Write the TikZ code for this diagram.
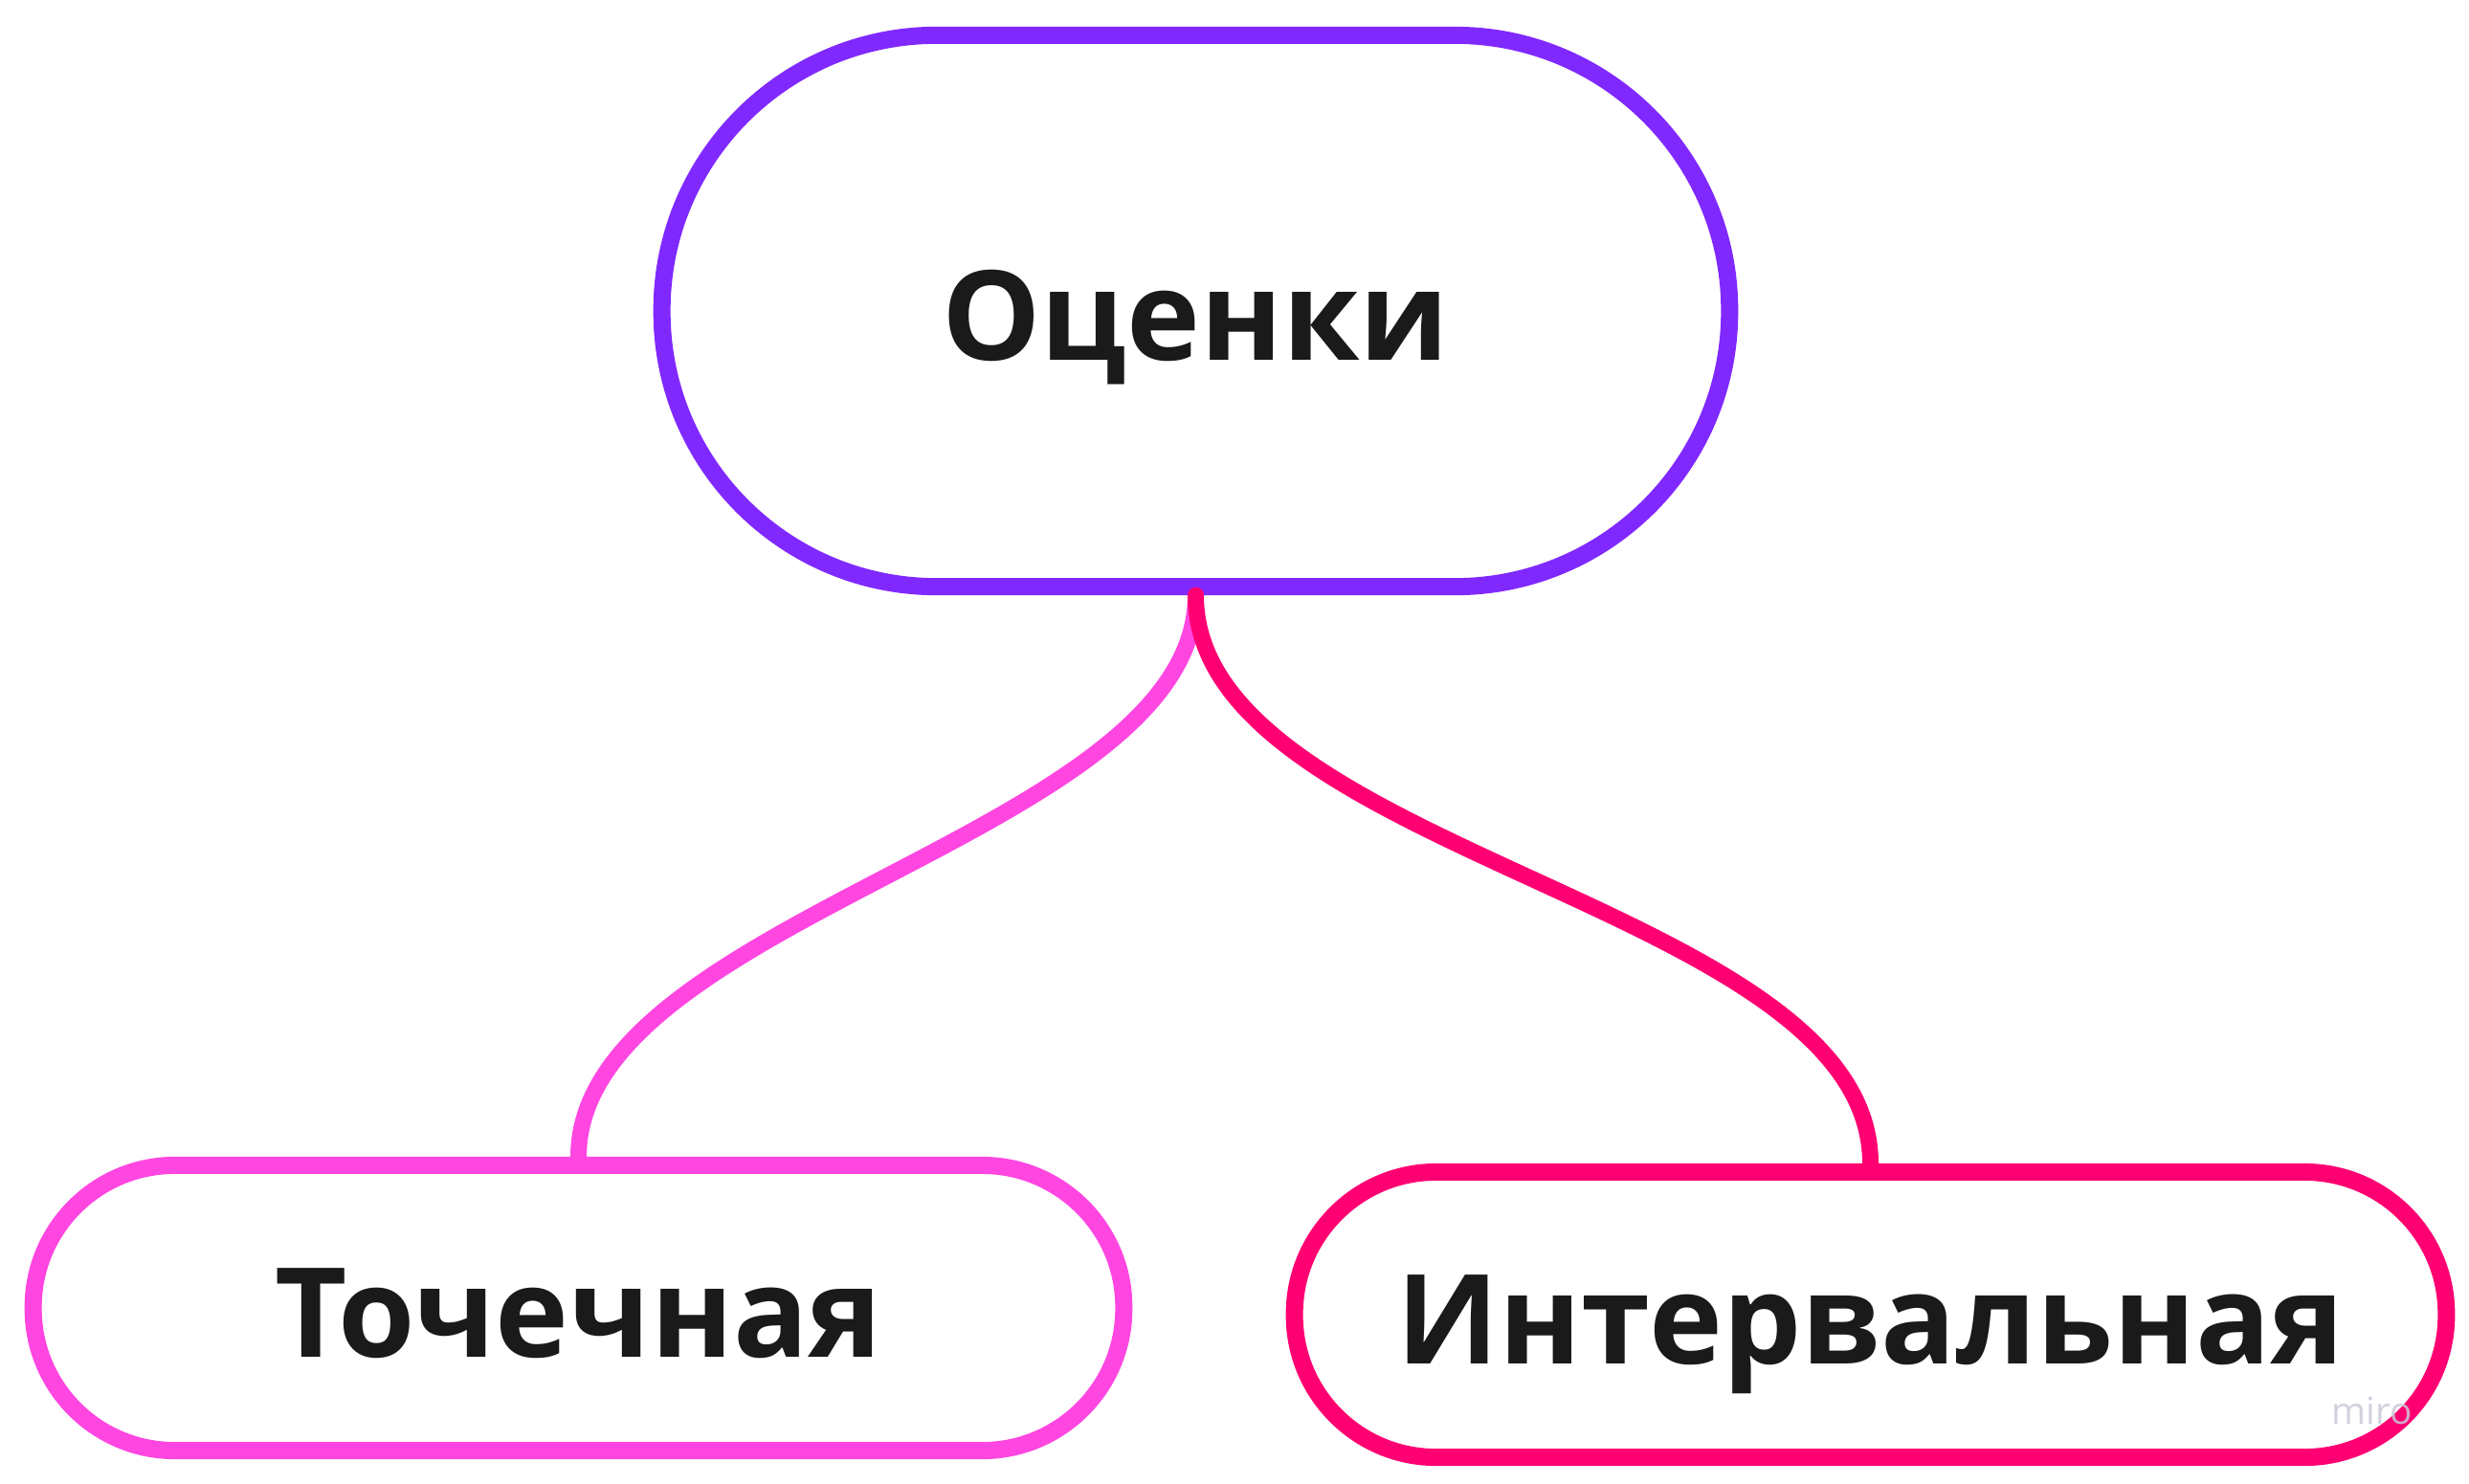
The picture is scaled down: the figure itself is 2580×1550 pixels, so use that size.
\documentclass[tikz,border=0pt]{standalone}
\usepackage{fontspec}
\setmainfont{Open Sans}
\definecolor{cpurple}{HTML}{8029FF}
\definecolor{cpink}{HTML}{FF46E1}
\definecolor{cred}{HTML}{FF0072}
\definecolor{ctext}{HTML}{1A1A1A}
\definecolor{cmiro}{HTML}{C9C9D9}
\tikzset{
  pill/.style={draw, fill=white, line width=0.18cm, inner sep=0pt,
    text=ctext, font=\fontsize{37}{44}\selectfont\bfseries,
    text height=29.5pt, text depth=0pt},
  link/.style={line width=0.17cm, line cap=round}
}
\begin{document}
\begin{tikzpicture}[x=0.01cm,y=-0.01cm]
\useasboundingbox (0,0) rectangle (2580,1550);
\fill[white] (0,0) rectangle (2580,1550);
\node[pill, draw=cpurple, minimum width=11.15cm, minimum height=5.76cm, rounded corners=2.87cm] (root) at (1249.5,325) {Оценки};
\node[pill, draw=cpink, minimum width=11.39cm, minimum height=2.98cm, rounded corners=1.48cm] (point) at (604.5,1367) {Точечная};
\node[pill, draw=cred, minimum width=12.03cm, minimum height=2.98cm, rounded corners=1.48cm] (interval) at (1954.5,1374) {Интервальная};
\draw[link, cpink] (root.south) .. controls +(0,250) and +(0,-250) .. (point.north);
\draw[link, cred] (root.south) .. controls +(0,270) and +(0,-270) .. (interval.north);
\node[text=cmiro, opacity=0.85, font=\fontsize{11}{13}\selectfont, anchor=base] (miro) at (2479,1488) {miro};
\end{tikzpicture}
\end{document}
